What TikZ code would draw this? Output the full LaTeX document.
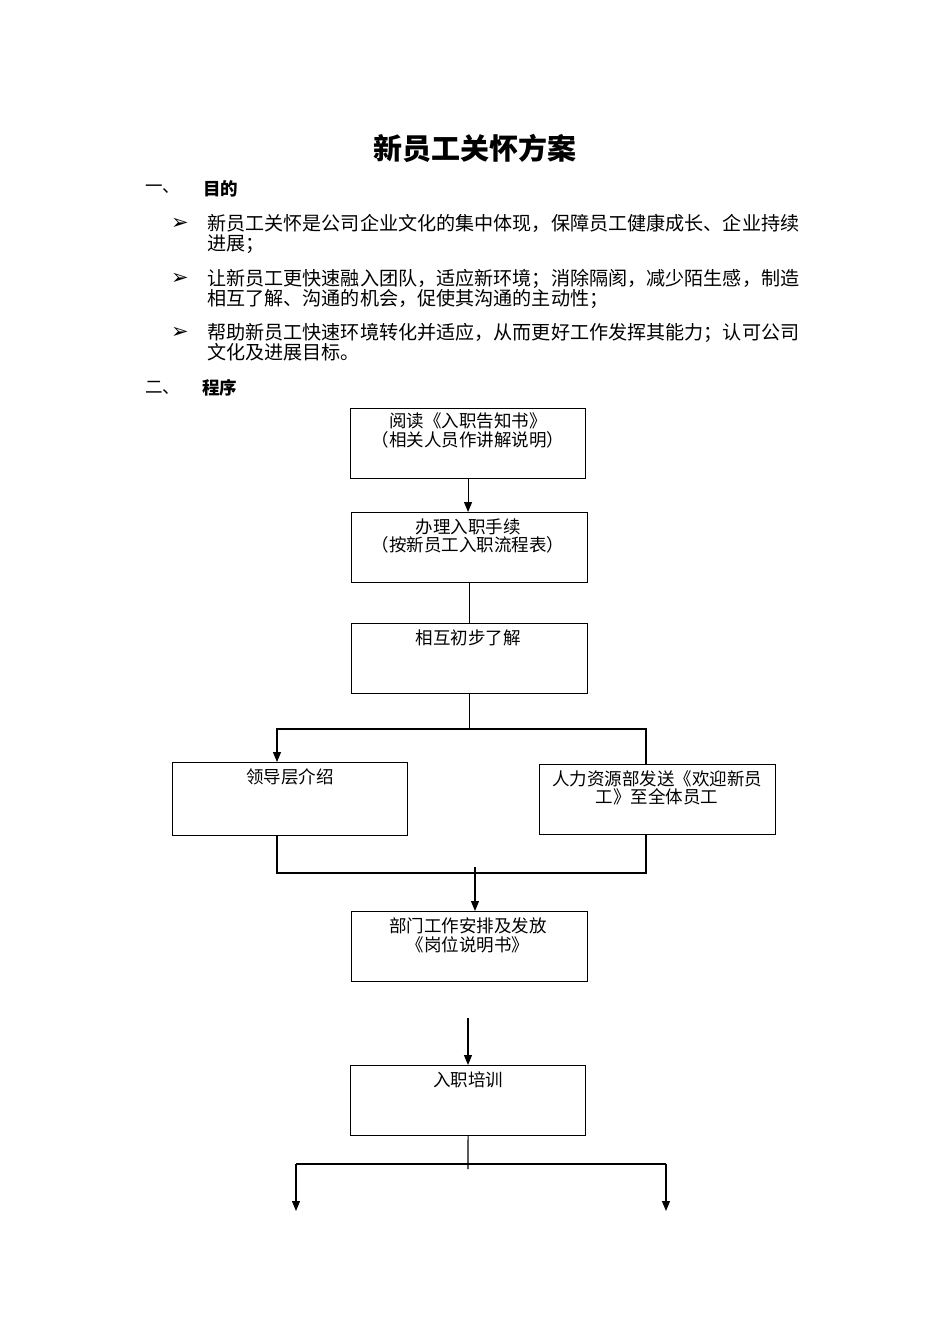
\documentclass[tikz,border=0pt]{standalone}
\usepackage{fontspec}
\setmainfont{Noto Sans CJK SC}
\newfontfamily\dejavu{DejaVu Sans}
\usetikzlibrary{arrows.meta}
\begin{document}
\begin{tikzpicture}[x=1pt,y=-1pt,
 box/.style={draw, line width=1.1pt, inner sep=0pt, anchor=north west},
 conn/.style={line width=1.1pt},
 arr/.style={conn, -{Triangle[length=10pt,width=8pt]}},
 btxt/.style={font=\fontsize{17.5}{18.6}\selectfont, align=center, inner sep=0pt},
 body/.style={font=\fontsize{19.1}{20}\selectfont, align=left, inner sep=0pt, anchor=west},
 bul/.style={font=\dejavu\fontsize{21}{21}\selectfont, inner sep=0pt},
 head/.style={font=\fontsize{17.5}{18}\selectfont, inner sep=0pt, anchor=west},
]
\useasboundingbox (0,0) rectangle (950,1344);
\fill[white] (0,0) rectangle (950,1344);

% title and text
\node[font=\fontsize{29}{30}\selectfont\bfseries, inner sep=0pt] (title) at (475,148) {新员工关怀方案};
\node[head] (h1n) at (145,189) {一、};
\node[head, font=\fontsize{17.5}{18}\selectfont\bfseries] (h1) at (203,189) {目的};

\node[bul] (k1) at (180,224) {➢};
\node[body] (p1) at (207,234) {新员工关怀是公司企业文化的集中体现，保障员工健康成长、企业持续\\进展；};
\node[bul] (k2) at (180,279) {➢};
\node[body] (p2) at (207,288.5) {让新员工更快速融入团队，适应新环境；消除隔阂，减少陌生感，制造\\相互了解、沟通的机会，促使其沟通的主动性；};
\node[bul] (k3) at (180,333) {➢};
\node[body] (p3) at (207,342.5) {帮助新员工快速环境转化并适应，从而更好工作发挥其能力；认可公司\\文化及进展目标。};

\node[head] (h2n) at (145,388) {二、};
\node[head, font=\fontsize{17.5}{18}\selectfont\bfseries] (h2) at (202,388) {程序};

% boxes
\node[box, minimum width=235pt, minimum height=70pt] (b1) at (350,408) {};
\node[btxt] (t1) at (468,430.5) {阅读《入职告知书》\\（相关人员作讲解说明）};
\node[box, minimum width=236pt, minimum height=70pt] (b2) at (351,512) {};
\node[btxt] (t2) at (468,536) {办理入职手续\\（按新员工入职流程表）};
\node[box, minimum width=236pt, minimum height=70pt] (b3) at (351,623) {};
\node[btxt] (t3) at (468,638) {相互初步了解};
\node[box, minimum width=235pt, minimum height=73pt] (bL) at (172,762) {};
\node[btxt] (tL) at (290,777) {领导层介绍};
\node[box, minimum width=236pt, minimum height=70pt] (bR) at (539,764) {};
\node[btxt] (tR) at (657,788) {人力资源部发送《欢迎新员\\工》至全体员工};
\node[box, minimum width=236pt, minimum height=70pt] (b4) at (351,911) {};
\node[btxt] (t4) at (468,935.5) {部门工作安排及发放\\《岗位说明书》};
\node[box, minimum width=235pt, minimum height=70pt] (b5) at (350,1065) {};
\node[btxt] (t5) at (468,1080) {入职培训};

% connectors
\draw[arr] (b1.south) -- (b1.south |- b2.north);
\draw[conn] (b2.south) -- (b2.south |- b3.north);

\coordinate (s1) at (468,729);
\coordinate (sl) at (277,729);
\coordinate (sr) at (646,729);
\draw[conn] (b3.south) -- (b3.south |- s1);
\draw[arr] (sr |- bR.north) -- (sr) -- (sl) -- (sl |- bL.north);

\coordinate (jl) at (277,873);
\coordinate (jr) at (646,873);
\coordinate (jm) at (475,873);
\draw[conn] (jl |- bL.south) -- (jl) -- (jr) -- (jr |- bR.south);
\draw[arr] ([yshift=6pt]jm) -- (jm |- b4.north);

\coordinate (g) at (468,1018);
\draw[arr] (g) -- (g |- b5.north);

\coordinate (m) at (468,1164);
\coordinate (el) at (296,1164);
\coordinate (er) at (666,1164);
\coordinate (al) at (296,1211);
\coordinate (ar) at (666,1211);
\draw[conn] (b5.south) -- ([yshift=-5pt]m);
\draw[conn] (el) -- (er);
\draw[arr] (el) -- (al);
\draw[arr] (er) -- (ar);
\end{tikzpicture}
\end{document}
